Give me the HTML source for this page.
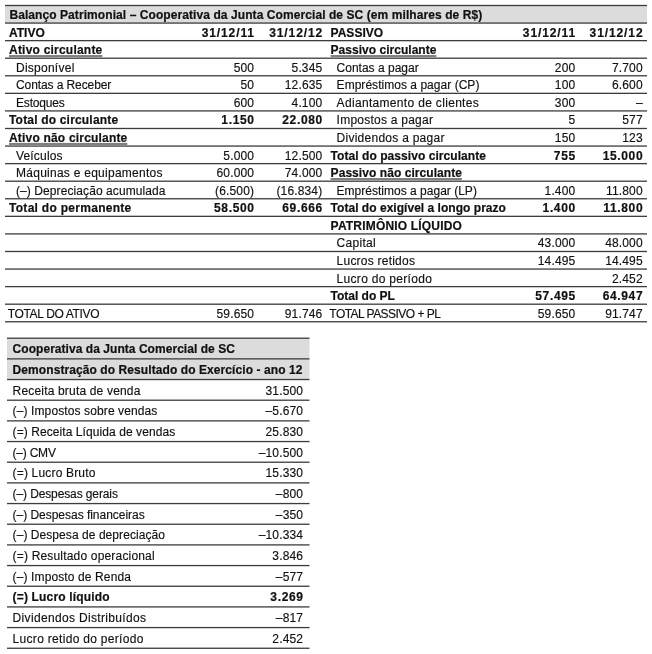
<!DOCTYPE html><html><head><meta charset="utf-8"><style>
html,body{margin:0;padding:0;background:#fff;width:652px;height:654px;overflow:hidden;position:relative}
.t{position:absolute;font:12px/14px "Liberation Sans", sans-serif;color:#111;white-space:pre}
#w{position:absolute;left:0;top:0;width:652px;height:654px;will-change:transform;background:#fff}
.t{-webkit-text-stroke:0.15px #111}
.b{font-weight:bold;-webkit-text-stroke:0.2px #111}
.ln{position:absolute;height:1px;background:#3c3c3c}
.bg{position:absolute;background:#dcdcdc}
.ul{position:absolute;height:2px;background:#7f7f7f}
</style></head><body><div id="w">
<svg width="652" height="654" style="position:absolute;left:0;top:0">
<rect x="5" y="5.5" width="642" height="17.57" fill="#dcdcdc"/>
<rect x="7" y="338.2" width="302.5" height="41.34" fill="#dcdcdc"/>
<rect x="5" y="4.85" width="642" height="1.3" fill="#3c3c3c"/>
<rect x="5" y="22.42" width="642" height="1.3" fill="#3c3c3c"/>
<rect x="5" y="39.99" width="642" height="1.3" fill="#3c3c3c"/>
<rect x="5" y="57.56" width="642" height="1.3" fill="#3c3c3c"/>
<rect x="5" y="75.13" width="642" height="1.3" fill="#3c3c3c"/>
<rect x="5" y="92.7" width="642" height="1.3" fill="#3c3c3c"/>
<rect x="5" y="110.27" width="642" height="1.3" fill="#3c3c3c"/>
<rect x="5" y="127.84" width="642" height="1.3" fill="#3c3c3c"/>
<rect x="5" y="145.41" width="642" height="1.3" fill="#3c3c3c"/>
<rect x="5" y="162.98" width="642" height="1.3" fill="#3c3c3c"/>
<rect x="5" y="180.55" width="642" height="1.3" fill="#3c3c3c"/>
<rect x="5" y="198.12" width="642" height="1.3" fill="#3c3c3c"/>
<rect x="5" y="215.69" width="642" height="1.3" fill="#3c3c3c"/>
<rect x="5" y="233.26" width="642" height="1.3" fill="#3c3c3c"/>
<rect x="5" y="250.83" width="642" height="1.3" fill="#3c3c3c"/>
<rect x="5" y="268.4" width="642" height="1.3" fill="#3c3c3c"/>
<rect x="5" y="285.97" width="642" height="1.3" fill="#3c3c3c"/>
<rect x="5" y="303.54" width="642" height="1.3" fill="#3c3c3c"/>
<rect x="5" y="321.11" width="642" height="1.3" fill="#3c3c3c"/>
<rect x="7" y="337.55" width="302.5" height="1.3" fill="#3c3c3c"/>
<rect x="7" y="358.22" width="302.5" height="1.3" fill="#3c3c3c"/>
<rect x="7" y="378.89" width="302.5" height="1.3" fill="#3c3c3c"/>
<rect x="7" y="399.56" width="302.5" height="1.3" fill="#3c3c3c"/>
<rect x="7" y="420.23" width="302.5" height="1.3" fill="#3c3c3c"/>
<rect x="7" y="440.9" width="302.5" height="1.3" fill="#3c3c3c"/>
<rect x="7" y="461.57" width="302.5" height="1.3" fill="#3c3c3c"/>
<rect x="7" y="482.24" width="302.5" height="1.3" fill="#3c3c3c"/>
<rect x="7" y="502.91" width="302.5" height="1.3" fill="#3c3c3c"/>
<rect x="7" y="523.58" width="302.5" height="1.3" fill="#3c3c3c"/>
<rect x="7" y="544.25" width="302.5" height="1.3" fill="#3c3c3c"/>
<rect x="7" y="564.92" width="302.5" height="1.3" fill="#3c3c3c"/>
<rect x="7" y="585.59" width="302.5" height="1.3" fill="#3c3c3c"/>
<rect x="7" y="606.26" width="302.5" height="1.3" fill="#3c3c3c"/>
<rect x="7" y="626.93" width="302.5" height="1.3" fill="#3c3c3c"/>
<rect x="7" y="647.6" width="302.5" height="1.3" fill="#3c3c3c"/>
<rect x="9" y="55.04" width="93.3" height="2.2" fill="#7f7f7f"/>
<rect x="9" y="142.89" width="118.3" height="2.2" fill="#7f7f7f"/>
<rect x="330.6" y="55.04" width="105.8" height="2.2" fill="#7f7f7f"/>
<rect x="330.6" y="178.03" width="131.3" height="2.2" fill="#7f7f7f"/>
</svg>
<div class="t b" style="left:9.4px;top:8px;letter-spacing:0.078px">Balanço Patrimonial – Cooperativa da Junta Comercial de SC (em milhares de R$)</div>
<div class="t b" style="left:9px;top:25.57px">ATIVO</div>
<div class="t b" style="left:201.64px;top:25.57px;letter-spacing:0.900px">31/12/11</div>
<div class="t b" style="left:269.18px;top:25.57px;letter-spacing:0.900px">31/12/12</div>
<div class="t b" style="left:330.6px;top:25.57px">PASSIVO</div>
<div class="t b" style="left:522.84px;top:25.57px;letter-spacing:0.900px">31/12/11</div>
<div class="t b" style="left:589.58px;top:25.57px;letter-spacing:0.900px">31/12/12</div>
<div class="t b" style="left:9px;top:43.14px;letter-spacing:0.218px">Ativo circulante</div>
<div class="t" style="left:16px;top:60.71px;letter-spacing:0.252px">Disponível</div>
<div class="t" style="left:233.67px;top:60.71px;letter-spacing:0.150px">500</div>
<div class="t" style="left:291.57px;top:60.71px;letter-spacing:0.150px">5.345</div>
<div class="t" style="left:16px;top:78.28px;letter-spacing:-0.096px">Contas a Receber</div>
<div class="t" style="left:240.49px;top:78.28px;letter-spacing:0.150px">50</div>
<div class="t" style="left:284.75px;top:78.28px;letter-spacing:0.150px">12.635</div>
<div class="t" style="left:16px;top:95.85px;letter-spacing:-0.178px">Estoques</div>
<div class="t" style="left:233.67px;top:95.85px;letter-spacing:0.150px">600</div>
<div class="t" style="left:291.57px;top:95.85px;letter-spacing:0.150px">4.100</div>
<div class="t b" style="left:9px;top:113.42px;letter-spacing:0.184px">Total do circulante</div>
<div class="t b" style="left:221.37px;top:113.42px;letter-spacing:0.650px">1.150</div>
<div class="t b" style="left:282.25px;top:113.42px;letter-spacing:0.650px">22.080</div>
<div class="t b" style="left:9px;top:130.99px;letter-spacing:0.189px">Ativo não circulante</div>
<div class="t" style="left:16px;top:148.56px;letter-spacing:0.175px">Veículos</div>
<div class="t" style="left:223.37px;top:148.56px;letter-spacing:0.150px">5.000</div>
<div class="t" style="left:284.75px;top:148.56px;letter-spacing:0.150px">12.500</div>
<div class="t" style="left:16px;top:166.13px;letter-spacing:0.261px">Máquinas e equipamentos</div>
<div class="t" style="left:216.55px;top:166.13px;letter-spacing:0.150px">60.000</div>
<div class="t" style="left:284.75px;top:166.13px;letter-spacing:0.150px">74.000</div>
<div class="t" style="left:16px;top:183.7px;letter-spacing:0.087px">(–) Depreciação acumulada</div>
<div class="t" style="left:215.07px;top:183.7px;letter-spacing:0.150px">(6.500)</div>
<div class="t" style="left:276.45px;top:183.7px;letter-spacing:0.150px">(16.834)</div>
<div class="t b" style="left:9px;top:201.27px;letter-spacing:0.287px">Total do permanente</div>
<div class="t b" style="left:214.05px;top:201.27px;letter-spacing:0.650px">58.500</div>
<div class="t b" style="left:282.25px;top:201.27px;letter-spacing:0.650px">69.666</div>
<div class="t" style="left:7.7px;top:306.69px;letter-spacing:-0.335px">TOTAL DO ATIVO</div>
<div class="t" style="left:216.55px;top:306.69px;letter-spacing:0.150px">59.650</div>
<div class="t" style="left:284.75px;top:306.69px;letter-spacing:0.150px">91.746</div>
<div class="t b" style="left:330.6px;top:43.14px;letter-spacing:0.024px">Passivo circulante</div>
<div class="t" style="left:336.6px;top:60.71px">Contas a pagar</div>
<div class="t" style="left:554.87px;top:60.71px;letter-spacing:0.150px">200</div>
<div class="t" style="left:611.97px;top:60.71px;letter-spacing:0.150px">7.700</div>
<div class="t" style="left:336.6px;top:78.28px;letter-spacing:0.033px">Empréstimos a pagar (CP)</div>
<div class="t" style="left:554.87px;top:78.28px;letter-spacing:0.150px">100</div>
<div class="t" style="left:611.97px;top:78.28px;letter-spacing:0.150px">6.600</div>
<div class="t" style="left:336.6px;top:95.85px;letter-spacing:0.323px">Adiantamento de clientes</div>
<div class="t" style="left:554.87px;top:95.85px;letter-spacing:0.150px">300</div>
<div class="t" style="left:635.91px;top:95.85px;letter-spacing:0.150px">–</div>
<div class="t" style="left:336.6px;top:113.42px;letter-spacing:0.239px">Impostos a pagar</div>
<div class="t" style="left:568.51px;top:113.42px;letter-spacing:0.150px">5</div>
<div class="t" style="left:622.27px;top:113.42px;letter-spacing:0.150px">577</div>
<div class="t" style="left:336.6px;top:130.99px;letter-spacing:0.258px">Dividendos a pagar</div>
<div class="t" style="left:554.87px;top:130.99px;letter-spacing:0.150px">150</div>
<div class="t" style="left:622.27px;top:130.99px;letter-spacing:0.150px">123</div>
<div class="t b" style="left:330.6px;top:148.56px;letter-spacing:0.057px">Total do passivo circulante</div>
<div class="t b" style="left:553.87px;top:148.56px;letter-spacing:0.650px">755</div>
<div class="t b" style="left:602.65px;top:148.56px;letter-spacing:0.650px">15.000</div>
<div class="t b" style="left:330.6px;top:166.13px;letter-spacing:0.059px">Passivo não circulante</div>
<div class="t" style="left:336.6px;top:183.7px;letter-spacing:0.010px">Empréstimos a pagar (LP)</div>
<div class="t" style="left:544.57px;top:183.7px;letter-spacing:0.150px">1.400</div>
<div class="t" style="left:606.04px;top:183.7px;letter-spacing:0.150px">11.800</div>
<div class="t b" style="left:330.6px;top:201.27px;letter-spacing:0.028px">Total do exigível a longo prazo</div>
<div class="t b" style="left:542.57px;top:201.27px;letter-spacing:0.650px">1.400</div>
<div class="t b" style="left:603.3px;top:201.27px;letter-spacing:0.650px">11.800</div>
<div class="t b" style="left:330.6px;top:218.84px;letter-spacing:0.181px">PATRIMÔNIO LÍQUIDO</div>
<div class="t" style="left:336.6px;top:236.41px;letter-spacing:0.282px">Capital</div>
<div class="t" style="left:537.75px;top:236.41px;letter-spacing:0.150px">43.000</div>
<div class="t" style="left:605.15px;top:236.41px;letter-spacing:0.150px">48.000</div>
<div class="t" style="left:336.6px;top:253.98px;letter-spacing:0.225px">Lucros retidos</div>
<div class="t" style="left:537.75px;top:253.98px;letter-spacing:0.150px">14.495</div>
<div class="t" style="left:605.15px;top:253.98px;letter-spacing:0.150px">14.495</div>
<div class="t" style="left:336.6px;top:271.55px;letter-spacing:0.304px">Lucro do período</div>
<div class="t" style="left:611.97px;top:271.55px;letter-spacing:0.150px">2.452</div>
<div class="t b" style="left:330.6px;top:289.12px;letter-spacing:-0.014px">Total do PL</div>
<div class="t b" style="left:535.25px;top:289.12px;letter-spacing:0.650px">57.495</div>
<div class="t b" style="left:602.65px;top:289.12px;letter-spacing:0.650px">64.947</div>
<div class="t" style="left:329.3px;top:306.69px;letter-spacing:-0.533px">TOTAL PASSIVO + PL</div>
<div class="t" style="left:537.75px;top:306.69px;letter-spacing:0.150px">59.650</div>
<div class="t" style="left:605.15px;top:306.69px;letter-spacing:0.150px">91.747</div>
<div class="t b" style="left:12.6px;top:342.3px;letter-spacing:0.045px">Cooperativa da Junta Comercial de SC</div>
<div class="t b" style="left:12.6px;top:362.97px;letter-spacing:0.081px">Demonstração do Resultado do Exercício - ano 12</div>
<div class="t" style="left:12.6px;top:383.64px;letter-spacing:0.176px">Receita bruta de venda</div>
<div class="t" style="left:265.55px;top:383.64px;letter-spacing:0.150px">31.500</div>
<div class="t" style="left:12.6px;top:404.31px;letter-spacing:0.113px">(–) Impostos sobre vendas</div>
<div class="t" style="left:265.55px;top:404.31px;letter-spacing:0.150px">–5.670</div>
<div class="t" style="left:12.6px;top:424.98px;letter-spacing:0.075px">(=) Receita Líquida de vendas</div>
<div class="t" style="left:265.55px;top:424.98px;letter-spacing:0.150px">25.830</div>
<div class="t" style="left:12.6px;top:445.65px;letter-spacing:-0.229px">(–) CMV</div>
<div class="t" style="left:258.71px;top:445.65px;letter-spacing:0.150px">–10.500</div>
<div class="t" style="left:12.6px;top:466.32px;letter-spacing:0.173px">(=) Lucro Bruto</div>
<div class="t" style="left:265.55px;top:466.32px;letter-spacing:0.150px">15.330</div>
<div class="t" style="left:12.6px;top:486.99px;letter-spacing:-0.116px">(–) Despesas gerais</div>
<div class="t" style="left:275.85px;top:486.99px;letter-spacing:0.150px">–800</div>
<div class="t" style="left:12.6px;top:507.66px;letter-spacing:-0.030px">(–) Despesas financeiras</div>
<div class="t" style="left:275.85px;top:507.66px;letter-spacing:0.150px">–350</div>
<div class="t" style="left:12.6px;top:528.33px;letter-spacing:0.061px">(–) Despesa de depreciação</div>
<div class="t" style="left:258.71px;top:528.33px;letter-spacing:0.150px">–10.334</div>
<div class="t" style="left:12.6px;top:549px;letter-spacing:0.179px">(=) Resultado operacional</div>
<div class="t" style="left:272.37px;top:549px;letter-spacing:0.150px">3.846</div>
<div class="t" style="left:12.6px;top:569.67px;letter-spacing:0.118px">(–) Imposto de Renda</div>
<div class="t" style="left:275.85px;top:569.67px;letter-spacing:0.150px">–577</div>
<div class="t b" style="left:12.6px;top:590.34px;letter-spacing:0.170px">(=) Lucro líquido</div>
<div class="t b" style="left:270.37px;top:590.34px;letter-spacing:0.650px">3.269</div>
<div class="t" style="left:12.6px;top:611.01px;letter-spacing:0.329px">Dividendos Distribuídos</div>
<div class="t" style="left:275.85px;top:611.01px;letter-spacing:0.150px">–817</div>
<div class="t" style="left:12.6px;top:631.68px;letter-spacing:0.305px">Lucro retido do período</div>
<div class="t" style="left:272.37px;top:631.68px;letter-spacing:0.150px">2.452</div>
</div></body></html>
